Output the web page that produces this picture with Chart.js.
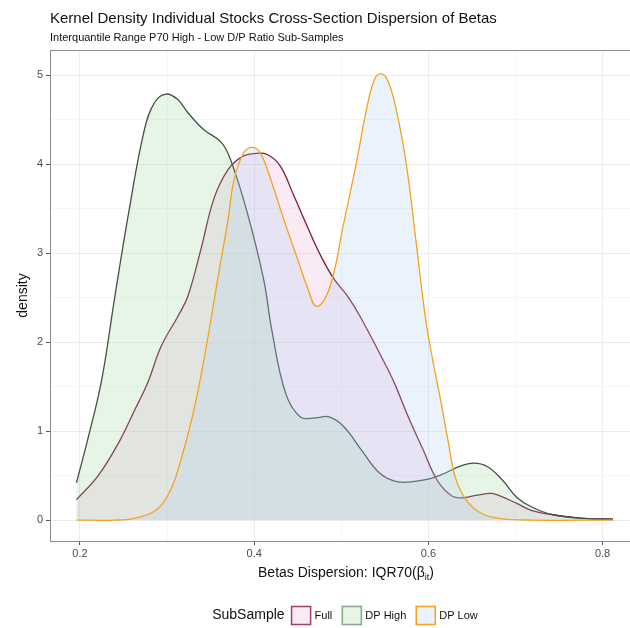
<!DOCTYPE html>
<html>
<head>
<meta charset="utf-8">
<script src="https://cdn.jsdelivr.net/npm/chart.js@4.4.0/dist/chart.umd.min.js"></script>
<style>
  body { margin: 0; background: #fff; }
  #wrap { width: 630px; height: 628px; }
</style>
</head>
<body>
<div id="wrap"><canvas id="densityChart" width="630" height="628"></canvas></div>
<script>
// series: x = betas dispersion, y = density
const fullX = [0.196, 0.221, 0.245, 0.262, 0.278, 0.293, 0.313, 0.324, 0.339, 0.354, 0.370, 0.385, 0.400, 0.415, 0.430, 0.445, 0.461, 0.476, 0.491, 0.507, 0.521, 0.548, 0.561, 0.577, 0.594, 0.610, 0.627, 0.639, 0.656, 0.673, 0.685, 0.701, 0.718, 0.743, 0.776, 0.812];
const fullY = [0.23, 0.50, 0.88, 1.22, 1.55, 1.95, 2.30, 2.52, 3.05, 3.62, 3.94, 4.08, 4.12, 4.11, 3.98, 3.66, 3.30, 2.98, 2.72, 2.52, 2.30, 1.80, 1.54, 1.16, 0.79, 0.45, 0.27, 0.25, 0.28, 0.30, 0.26, 0.19, 0.11, 0.06, 0.02, 0.01];

const highX = [0.196, 0.210, 0.225, 0.240, 0.256, 0.274, 0.286, 0.299, 0.312, 0.324, 0.342, 0.362, 0.373, 0.392, 0.411, 0.420, 0.436, 0.453, 0.470, 0.486, 0.503, 0.523, 0.544, 0.565, 0.594, 0.615, 0.635, 0.652, 0.668, 0.685, 0.701, 0.718, 0.743, 0.780, 0.812];
const highY = [0.42, 0.95, 1.58, 2.51, 3.46, 4.39, 4.70, 4.79, 4.73, 4.58, 4.39, 4.25, 4.05, 3.46, 2.70, 2.15, 1.43, 1.16, 1.15, 1.16, 1.05, 0.79, 0.53, 0.43, 0.45, 0.51, 0.60, 0.64, 0.60, 0.45, 0.26, 0.15, 0.06, 0.02, 0.01];

const lowX = [0.196, 0.240, 0.262, 0.287, 0.304, 0.316, 0.329, 0.341, 0.358, 0.370, 0.377, 0.388, 0.398, 0.407, 0.419, 0.434, 0.450, 0.461, 0.472, 0.487, 0.502, 0.518, 0.529, 0.538, 0.545, 0.553, 0.563, 0.575, 0.586, 0.597, 0.605, 0.615, 0.623, 0.631, 0.643, 0.660, 0.681, 0.720, 0.812];
const lowY = [0, 0, 0.02, 0.11, 0.34, 0.68, 1.16, 1.73, 2.70, 3.38, 3.83, 4.13, 4.19, 4.13, 3.83, 3.38, 2.93, 2.62, 2.40, 2.62, 3.30, 4.05, 4.62, 4.95, 5.02, 4.95, 4.62, 3.98, 3.12, 2.25, 1.80, 1.30, 0.87, 0.48, 0.23, 0.08, 0.02, 0, 0];

const groups = ['Full', 'DP High', 'DP Low'];
const lineColors = ['#7a1c3c', '#474f48', '#f5a21c'];
const fillColors = ['rgba(225,140,205,0.18)', 'rgba(150,215,150,0.24)', 'rgba(175,208,245,0.26)'];
const legendBorders = ['#a8405e', '#8aa88a', '#f5a21c'];

const FONT = "'Liberation Sans', Arial, sans-serif";

function pts(xs, ys) {
    return xs.map((x, i) => ({ x: x, y: ys[i] }));
}

function makeSet(i, xs, ys) {
    return {
        label: groups[i],
        data: pts(xs, ys),
        borderColor: lineColors[i],
        backgroundColor: fillColors[i],
        borderWidth: 1.3,
        fill: 'origin',
        pointRadius: 0,
        tension: 0.4
    };
}

// ggplot draws DP Low last (on top); in Chart.js index 0 is drawn last
const datasets = [
    makeSet(2, lowX, lowY),
    makeSet(1, highX, highY),
    makeSet(0, fullX, fullY)
];

const decor = {
    id: 'decor',
    afterDraw(chart) {
        const c = chart.ctx;
        const a = chart.chartArea;
        c.save();
        // panel border
        c.strokeStyle = '#8c8c8c';
        c.lineWidth = 1;
        c.strokeRect(a.left + 0.5, a.top + 0.5, a.right - a.left + 10, a.bottom - a.top);

        // titles
        c.fillStyle = '#111';
        c.textAlign = 'left';
        c.textBaseline = 'alphabetic';
        c.font = '15px ' + FONT;
        c.fillText('Kernel Density Individual Stocks Cross-Section Dispersion of Betas', 50, 23);
        c.font = '11px ' + FONT;
        c.fillText('Interquantile Range P70 High - Low D/P Ratio Sub-Samples', 50, 41);

        // x axis title with subscript
        const cx = 346;
        const by = 577;
        const mainTxt = 'Betas Dispersion: IQR70(\u03B2';
        c.font = '14px ' + FONT;
        const w1 = c.measureText(mainTxt).width;
        c.font = '9px ' + FONT;
        const w2 = c.measureText('it').width;
        c.font = '14px ' + FONT;
        const w3 = c.measureText(')').width;
        let x0 = cx - (w1 + w2 + w3) / 2;
        c.fillText(mainTxt, x0, by);
        c.font = '9px ' + FONT;
        c.fillText('it', x0 + w1, by + 3);
        c.font = '14px ' + FONT;
        c.fillText(')', x0 + w1 + w2, by);

        // y axis title
        c.save();
        c.translate(27, (a.top + a.bottom) / 2);
        c.rotate(-Math.PI / 2);
        c.textAlign = 'center';
        c.font = '14px ' + FONT;
        c.fillText('density', 0, 0);
        c.restore();

        // legend
        const ly = 615.5;
        c.textBaseline = 'middle';
        c.font = '14px ' + FONT;
        const titleW = c.measureText('SubSample').width;
        c.font = '11px ' + FONT;
        const itemW = groups.map(g => c.measureText(g).width);
        const boxW = 21, boxH = 20;
        let total = titleW + 6;
        itemW.forEach(w => { total += boxW + 3 + w + 9; });
        total -= 9;
        let lx = 345 - total / 2;
        c.font = '14px ' + FONT;
        c.fillText('SubSample', lx, ly);
        lx += titleW + 6;
        groups.forEach((g, i) => {
            c.fillStyle = '#fff';
            c.fillRect(lx, ly - boxH / 2, boxW, boxH);
            c.fillStyle = fillColors[i];
            c.fillRect(lx, ly - boxH / 2, boxW, boxH);
            c.strokeStyle = legendBorders[i];
            c.lineWidth = 1.5;
            c.strokeRect(lx + 1, ly - boxH / 2 + 1, boxW - 2, boxH - 2);
            c.fillStyle = '#111';
            c.font = '11px ' + FONT;
            c.fillText(g, lx + boxW + 3, ly);
            lx += boxW + 3 + itemW[i] + 9;
        });
        c.restore();
    }
};

function isWhole(v, step) {
    const k = v / step;
    return Math.abs(k - Math.round(k)) < 1e-6;
}

const config = {
    type: 'line',
    data: { datasets: datasets },
    options: {
        responsive: false,
        animation: false,
        layout: { padding: { top: 50, bottom: 41, left: 0, right: 0 } },
        plugins: {
            legend: { display: false },
            title: { display: false },
            tooltip: { enabled: false }
        },
        scales: {
            x: {
                type: 'linear',
                min: 0.1656,
                max: 0.8315,
                afterFit: function (scale) { scale.height = 46; },
                border: { display: false },
                grid: {
                    color: ctx => isWhole(ctx.tick.value, 0.2) ? '#ececec' : '#f6f6f6',
                    tickColor: ctx => isWhole(ctx.tick.value, 0.2) ? '#555' : 'rgba(0,0,0,0)',
                    tickLength: 4
                },
                ticks: {
                    stepSize: 0.1,
                    includeBounds: false,
                    maxRotation: 0,
                    autoSkip: false,
                    padding: 2,
                    color: '#4d4d4d',
                    font: { family: FONT, size: 11 },
                    callback: function (val) {
                        return isWhole(val, 0.2) ? val.toFixed(1) : '';
                    }
                }
            },
            y: {
                min: -0.235,
                max: 5.285,
                afterFit: function (scale) { scale.width = 50; },
                border: { display: false },
                grid: {
                    color: ctx => isWhole(ctx.tick.value, 1) ? '#ececec' : '#f6f6f6',
                    tickColor: ctx => isWhole(ctx.tick.value, 1) ? '#555' : 'rgba(0,0,0,0)',
                    tickLength: 4
                },
                ticks: {
                    stepSize: 0.5,
                    includeBounds: false,
                    autoSkip: false,
                    padding: 3,
                    color: '#4d4d4d',
                    font: { family: FONT, size: 11 },
                    callback: function (val) {
                        return isWhole(val, 1) ? String(Math.round(val)) : '';
                    }
                }
            }
        }
    },
    plugins: [decor]
};

var densityChart = new Chart(document.getElementById('densityChart'), config);
</script>
</body>
</html>
